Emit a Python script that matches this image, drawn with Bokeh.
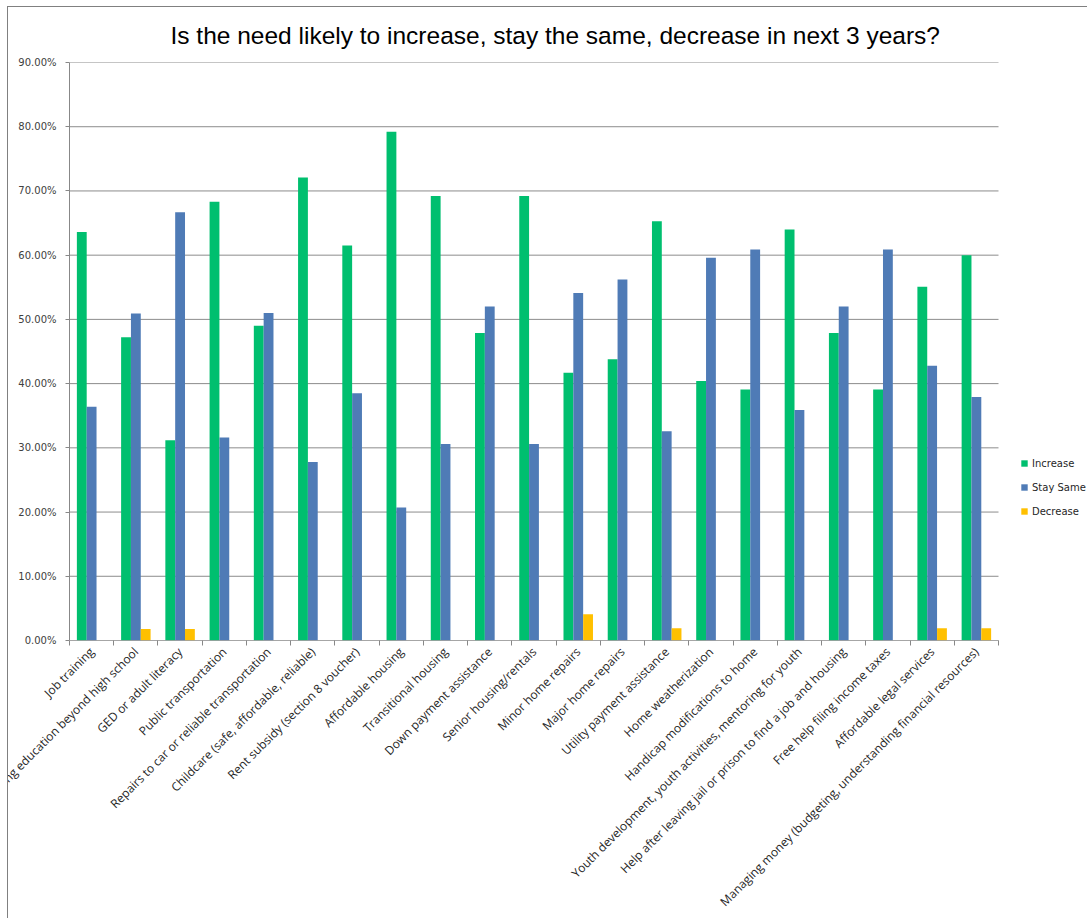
from bokeh.plotting import figure
from bokeh.models import (ColumnDataSource, FixedTicker, NumeralTickFormatter,
                          Legend, LegendItem, Range1d)
from bokeh.transform import dodge
from bokeh.embed import file_html
from bokeh.resources import INLINE

categories = [
    "Job training",
    "Continuing education beyond high school",
    "GED or adult literacy",
    "Public transportation",
    "Repairs to car or reliable transportation",
    "Childcare (safe, affordable, reliable)",
    "Rent subsidy (section 8 voucher)",
    "Affordable housing",
    "Transitional housing",
    "Down payment assistance",
    "Senior housing/rentals",
    "Minor home repairs",
    "Major home repairs",
    "Utility payment assistance",
    "Home weatherization",
    "Handicap modifications to home",
    "Youth development, youth activities, mentoring for youth",
    "Help after leaving jail or prison to find a job and housing",
    "Free help filing income taxes",
    "Affordable legal services",
    "Managing money (budgeting, understanding financial resources)",
]
increase = [63.6, 47.2, 31.2, 68.3, 49.0, 72.1, 61.5, 79.2, 69.2, 47.9, 69.2,
            41.7, 43.8, 65.3, 40.4, 39.1, 64.0, 47.9, 39.1, 55.1, 60.0]
stay_same = [36.4, 50.9, 66.7, 31.6, 51.0, 27.8, 38.5, 20.7, 30.6, 52.0, 30.6,
             54.1, 56.2, 32.6, 59.6, 60.9, 35.9, 52.0, 60.9, 42.8, 37.9]
decrease = [0, 1.8, 1.8, 0, 0, 0, 0, 0, 0, 0, 0,
            4.1, 0, 1.9, 0, 0, 0, 0, 0, 1.9, 1.9]
series_names = ["Increase", "Stay Same", "Decrease"]
series_colors = ["#00BF6F", "#4F7BB6", "#FFC000"]
y_ticks = [0.0, 0.1, 0.2, 0.3, 0.4, 0.5, 0.6, 0.7, 0.8, 0.9]

n = len(categories)
xs = list(range(1, n + 1))
src = ColumnDataSource(dict(
    x=xs,
    inc=[v / 100 for v in increase],
    stay=[v / 100 for v in stay_same],
    dec=[v / 100 for v in decrease],
))

# layout constants (pixels)
W, H = 1080, 912
LEFT, TOP, BOTTOM = 61, 55, 279
AXIS_PX = 929                      # width of the category axis
frame_w = W - LEFT
x_end = 0.5 + frame_w * n / AXIS_PX   # frame extends right so the legend fits

p = figure(width=W, height=H, output_backend="svg", toolbar_location=None,
           x_range=Range1d(0.5, x_end), y_range=Range1d(0, 0.9),
           min_border_left=LEFT, min_border_top=TOP, min_border_right=0,
           min_border_bottom=BOTTOM)
p.styles = {"margin-left": "7px", "margin-top": "6px",
            "border-left": "1px solid #808080", "border-top": "1px solid #808080"}
p.outline_line_color = None
p.background_fill_color = "white"
p.border_fill_color = "white"

p.title.text = "Is the need likely to increase, stay the same, decrease in next 3 years?"
p.title.text_font = "Liberation Sans"
p.title.text_font_size = "24.5px"
p.title.text_font_style = "normal"
p.title.text_color = "#000000"
p.title.align = "left"
p.title.vertical_align = "top"
p.title.offset = 101
p.title.standoff = 23

# horizontal gridlines across the category axis only
p.xgrid.grid_line_color = None
p.ygrid.grid_line_color = None
p.segment(x0=[0.5] * len(y_ticks), x1=[n + 0.5] * len(y_ticks), y0=y_ticks, y1=y_ticks,
          line_color="#8C8C8C", line_width=1)

bw = 1 / 4.5
cols = ["inc", "stay", "dec"]
offs = [-bw, 0, bw]
renderers = []
for c, o, col in zip(cols, offs, series_colors):
    r = p.vbar(x=dodge("x", o, range=p.x_range), top=c, width=bw, source=src,
               fill_color=col, line_color=None)
    renderers.append(r)

# x axis: labels at category centers, tick marks at category boundaries
p.xaxis.ticker = FixedTicker(ticks=xs, minor_ticks=[i + 0.5 for i in range(0, n + 1)])
p.xaxis.major_label_overrides = {i: lab for i, lab in zip(xs, categories)}
p.xaxis.major_label_orientation = 0.785398
p.xaxis.major_tick_out = 0
p.xaxis.major_tick_in = 0
p.xaxis.minor_tick_out = 5
p.xaxis.minor_tick_in = 0
p.xaxis.minor_tick_line_color = "#888888"
p.xaxis.axis_line_color = None
p.xaxis.major_label_text_font = "Open Sans"
p.xaxis.major_label_text_font_size = "12px"
p.xaxis.major_label_text_color = "#262626"
p.xaxis.major_label_standoff = 4
p.segment(x0=[0.5], x1=[n + 0.5], y0=[0], y1=[0], line_color="#888888", line_width=1)

p.yaxis.ticker = FixedTicker(ticks=y_ticks)
p.yaxis.formatter = NumeralTickFormatter(format="0.00%")
p.yaxis.major_tick_out = 4
p.yaxis.major_tick_in = 0
p.yaxis.minor_tick_line_color = None
p.yaxis.major_tick_line_color = "#888888"
p.yaxis.axis_line_color = "#888888"
p.yaxis.major_label_text_font = "DejaVu Sans"
p.yaxis.major_label_text_font_size = "10px"
p.yaxis.major_label_text_color = "#404040"
p.yaxis.major_label_standoff = 9

legend = Legend(items=[LegendItem(label=nm, renderers=[r]) for nm, r in zip(series_names, renderers)],
                location=(951, 122), padding=0, spacing=10, glyph_width=8, glyph_height=8,
                label_standoff=4, label_height=14, border_line_color=None,
                background_fill_alpha=0, label_text_font="DejaVu Sans",
                label_text_font_size="10px", label_text_color="#262626", margin=0)
p.add_layout(legend)

open("out.html", "w").write(file_html(p, INLINE))
